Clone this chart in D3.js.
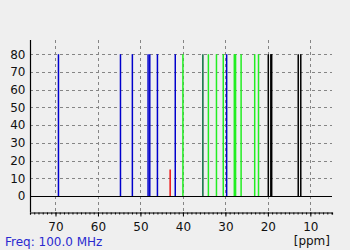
<!DOCTYPE html>
<html><head><meta charset="utf-8">
<script src="https://cdn.jsdelivr.net/npm/d3@7"></script>
<style>
html,body{margin:0;padding:0;background:#efefef;}
svg{display:block;font-family:"DejaVu Sans",sans-serif;}
</style></head>
<body>
<svg id="c" width="350" height="250"></svg>
<script>
const bluePeaks = [69.3, 54.7, 51.9, 48.2, 47.8, 46.0, 41.8, 29.7];
const blueHeights = [80, 80, 80, 80, 80, 80, 80, 80];
const redPeaks = [43.0];
const redHeights = [15];
const greenPeaks = [40.0, 34.0, 32.1, 30.5, 27.9, 27.6, 26.3, 23.1, 22.2];
const greenHeights = [80, 80, 80, 80, 80, 80, 80, 80, 80];
const darkPeaks = [35.3];
const darkHeights = [80];
const blackPeaks = [19.9, 19.3, 19.1, 12.85, 12.25];
const blackHeights = [80, 80, 80, 80, 80];
const xTicks = [70, 60, 50, 40, 30, 20, 10];
const yTicks = [0, 10, 20, 30, 40, 50, 60, 70, 80];
const freqLabel = "Freq: 100.0 MHz";
const unitLabel = "[ppm]";

const svg = d3.select("#c");
const x = d3.scaleLinear().domain([76, 4.9]).range([30, 332]);
const y = d3.scaleLinear().domain([-9, 88]).range([212, 40]);

// grid
const grid = svg.append("g").attr("stroke", "#858585").attr("stroke-width", 1)
  .attr("stroke-dasharray", "3,3").attr("fill", "none");
grid.selectAll("line.h").data(yTicks.filter(d => d !== 0)).join("line")
  .attr("x1", x(76)).attr("x2", x(4.9))
  .attr("y1", d => Math.round(y(d)) + 0.5).attr("y2", d => Math.round(y(d)) + 0.5);
grid.selectAll("line.v").data(xTicks).join("line")
  .attr("x1", d => Math.round(x(d)) + 0.5).attr("x2", d => Math.round(x(d)) + 0.5)
  .attr("y1", y(88)).attr("y2", y(-9));

// peaks
function drawPeaks(ppm, h, color) {
  svg.append("g").selectAll("line").data(ppm.map((p, i) => [p, h[i]])).join("line")
    .attr("x1", d => x(d[0])).attr("x2", d => x(d[0]))
    .attr("y1", y(0)).attr("y2", d => y(d[1]))
    .attr("stroke", color).attr("stroke-width", 1.5);
}
drawPeaks(bluePeaks, blueHeights, "#0000cc");
drawPeaks(greenPeaks, greenHeights, "#22ee22");
drawPeaks(darkPeaks, darkHeights, "#0b6a3e");
drawPeaks(redPeaks, redHeights, "#ee1111");
drawPeaks(blackPeaks, blackHeights, "#000000");

// zero line
svg.append("line").attr("x1", x(76)).attr("x2", x(4.9))
  .attr("y1", Math.round(y(0)) + 0.5).attr("y2", Math.round(y(0)) + 0.5)
  .attr("stroke", "#000").attr("stroke-width", 1.2);

// x axis: minor ticks
const xAxisG = svg.append("g").attr("transform", `translate(0,${Math.round(y(-9)) + 0.5})`);
xAxisG.call(d3.axisBottom(x).tickValues(d3.range(5, 77)).tickSize(2).tickFormat(""))
  .call(g => g.select(".domain").attr("stroke", "#000").attr("stroke-width", 1.2))
  .call(g => g.selectAll(".tick line").attr("stroke", "#000"));
const xMajor = svg.append("g").attr("transform", `translate(0,${Math.round(y(-9)) + 0.5})`);
xMajor.call(d3.axisBottom(x).tickValues(xTicks).tickSize(4).tickPadding(6))
  .call(g => g.select(".domain").remove())
  .call(g => g.selectAll(".tick line").attr("stroke", "#000"))
  .call(g => g.selectAll(".tick text").attr("fill", "#111").style("font-size", "12px").style("font-family", "DejaVu Sans"));

// y axis
const yAxisG = svg.append("g").attr("transform", `translate(${Math.round(x(76)) + 0.5},0)`);
yAxisG.call(d3.axisLeft(y).tickValues(yTicks).tickSize(0).tickPadding(5))
  .call(g => g.select(".domain").attr("stroke", "#000").attr("stroke-width", 1.2).attr("d", `M0,${y(88)}V${y(-9)}`))
  .call(g => g.selectAll(".tick text").attr("fill", "#111").style("font-size", "12px").style("font-family", "DejaVu Sans"));

svg.append("text").attr("x", 5).attr("y", 246).attr("fill", "#2a2ad0")
  .style("font-size", "12px").text(freqLabel);
svg.append("text").attr("x", 330).attr("y", 245).attr("text-anchor", "end").attr("fill", "#111")
  .style("font-size", "12px").text(unitLabel);
</script>
</body></html>
